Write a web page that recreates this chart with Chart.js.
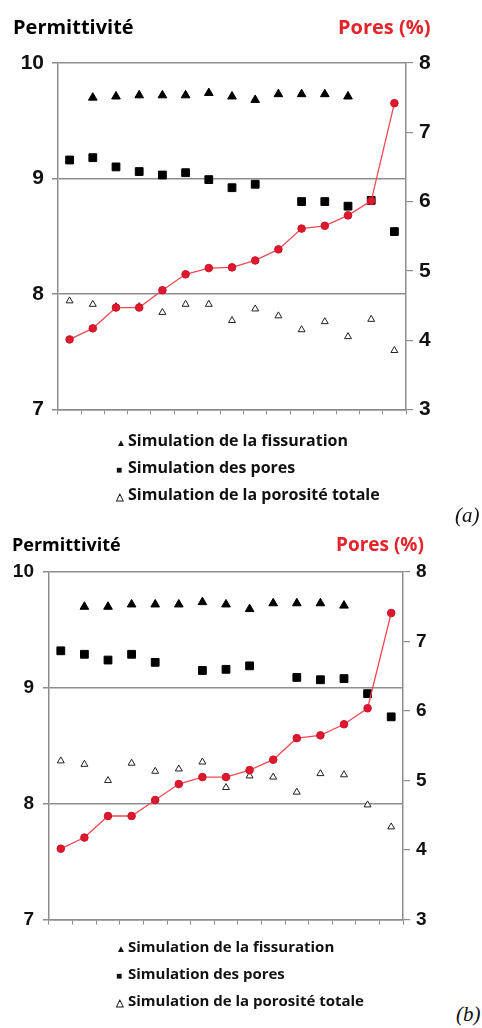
<!DOCTYPE html>
<html>
<head>
<meta charset="utf-8">
<script src="https://cdn.jsdelivr.net/npm/chart.js@4/dist/chart.umd.min.js"></script>
<style>
  body { margin: 0; background: #fff; width: 482px; height: 1028px; position: relative; overflow: hidden; }
  canvas { position: absolute; left: 0; }
  .head { position: absolute; font-family: "Open Sans", sans-serif; font-weight: 700; white-space: nowrap; line-height: 1; }
  .red { color: #e3242b; }
  .legend { position: absolute; left: 116px; font-family: "Open Sans", sans-serif; font-weight: 700; color: #111; }
  .legend div { white-space: nowrap; height: 27px; line-height: 27px; }
  .legend .sym { display: inline-block; width: 12px; font-size: 10px; line-height: 1; vertical-align: baseline; }
  .tag { position: absolute; font-family: "Liberation Serif", serif; font-style: italic; font-size: 21px; color: #111; }
</style>
</head>
<body>
<canvas id="chartA" width="482" height="430" style="top:0"></canvas>
<canvas id="chartB" width="482" height="430" style="top:510px"></canvas>

<div class="head" style="left:13px; top:17px; font-size:20px">Permittivité</div>
<div class="head red" style="left:338px; top:17px; font-size:20px">Pores (%)</div>
<div class="legend" id="legendA" style="top:427px; font-size:16px"></div>
<div class="tag" style="left:455px; top:503px">(a)</div>

<div class="head" style="left:12px; top:535px; font-size:18px">Permittivité</div>
<div class="head red" style="left:336px; top:535px; font-size:19px">Pores (%)</div>
<div class="legend" id="legendB" style="top:933px; font-size:15px"></div>
<div class="tag" style="left:456px; top:1002px">(b)</div>

<script>
const labels = ['1', '2', '3', '4', '5', '6', '7', '8', '9', '10', '11', '12', '13', '14', '15'];
const nameFiss = 'Simulation de la fissuration';
const namePores = 'Simulation des pores';
const nameTotal = 'Simulation de la porosité totale';

// (a) permittivity (left axis) and measured pores % (right axis)
const fissA = [null, 9.70, 9.71, 9.72, 9.72, 9.72, 9.74, 9.71, 9.68, 9.73, 9.73, 9.73, 9.71, null, null];
const poresSimA = [9.16, 9.18, 9.10, 9.06, 9.03, 9.05, 8.99, 8.92, 8.95, null, 8.80, 8.80, 8.76, 8.81, 8.54];
const totalA = [7.94, 7.91, 7.89, 7.89, 7.84, 7.91, 7.91, 7.77, 7.87, 7.81, 7.69, 7.76, 7.63, 7.78, 7.51];
const poresA = [4.01, 4.17, 4.47, 4.47, 4.72, 4.95, 5.04, 5.05, 5.15, 5.31, 5.61, 5.65, 5.80, 6.01, 7.42];

// (b)
const fissB = [null, 9.70, 9.70, 9.72, 9.72, 9.72, 9.74, 9.72, 9.68, 9.73, 9.73, 9.73, 9.71, null, null];
const poresSimB = [9.32, 9.29, 9.24, 9.29, 9.22, null, 9.15, 9.16, 9.19, null, 9.09, 9.07, 9.08, 8.95, 8.75];
const totalB = [8.37, 8.34, 8.20, 8.35, 8.28, 8.30, 8.36, 8.14, 8.24, 8.23, 8.10, 8.26, 8.25, 7.99, 7.80];
const poresB = [4.02, 4.18, 4.49, 4.49, 4.72, 4.95, 5.05, 5.05, 5.15, 5.30, 5.61, 5.65, 5.81, 6.04, 7.41];

const permTicks = [7, 8, 9, 10];
const poresTicks = [3, 4, 5, 6, 7, 8];

const gridGray = '#8d8d8d';

function buildChart(canvasId, fiss, poresSim, total, pores, geo) {
    const tickFont = { family: 'Liberation Sans', weight: 'bold', size: geo.tickSize };
    return new Chart(document.getElementById(canvasId), {
        type: 'line',
        data: {
            labels: labels,
            datasets: [
                {
                    label: 'Pores (%)',
                    data: pores,
                    yAxisID: 'y1',
                    order: 0,
                    borderColor: '#ef4a55',
                    borderWidth: 1.3,
                    pointStyle: 'circle',
                    pointRadius: 3.8,
                    pointBackgroundColor: '#e0182d',
                    pointBorderColor: '#c8142a',
                    pointBorderWidth: 1
                },
                {
                    label: nameFiss,
                    data: fiss,
                    yAxisID: 'y',
                    order: 1,
                    showLine: false,
                    pointStyle: 'triangle',
                    pointRadius: 5,
                    pointBackgroundColor: '#000',
                    pointBorderColor: '#000',
                    pointBorderWidth: 1
                },
                {
                    label: namePores,
                    data: poresSim,
                    yAxisID: 'y',
                    order: 2,
                    showLine: false,
                    pointStyle: 'rect',
                    pointRadius: 5.5,
                    pointBackgroundColor: '#000',
                    pointBorderColor: '#000',
                    pointBorderWidth: 1
                },
                {
                    label: nameTotal,
                    data: total,
                    yAxisID: 'y',
                    order: 3,
                    showLine: false,
                    pointStyle: 'triangle',
                    pointRadius: 4,
                    pointBackgroundColor: '#fff',
                    pointBorderColor: '#222',
                    pointBorderWidth: 1
                }
            ]
        },
        options: {
            responsive: false,
            animation: false,
            devicePixelRatio: 1,
            layout: { padding: { top: geo.top, left: 0, right: 0, bottom: 0 } },
            plugins: { legend: { display: false }, tooltip: { enabled: false } },
            scales: {
                x: {
                    type: 'category',
                    offset: true,
                    ticks: { display: false },
                    grid: { offset: true, drawOnChartArea: false, tickLength: 5, color: gridGray, lineWidth: 1 },
                    border: { color: gridGray, width: 1.5 },
                    afterFit: function (s) { s.height = geo.xHeight; }
                },
                y: {
                    position: 'left',
                    min: 7,
                    max: 10,
                    afterBuildTicks: function (s) { s.ticks = permTicks.map(v => ({ value: v })); },
                    ticks: { color: '#111', font: tickFont, padding: geo.tickPad },
                    grid: { color: gridGray, lineWidth: 1.5, tickLength: 6 },
                    border: { color: gridGray, width: 1.5 },
                    afterFit: function (s) { s.width = geo.leftWidth; }
                },
                y1: {
                    position: 'right',
                    min: 3,
                    max: 8,
                    afterBuildTicks: function (s) { s.ticks = poresTicks.map(v => ({ value: v })); },
                    ticks: { color: '#111', font: tickFont, padding: 6 },
                    grid: { drawOnChartArea: false, color: gridGray, lineWidth: 1.2, tickLength: 7 },
                    border: { color: gridGray, width: 1.5 },
                    afterFit: function (s) { s.width = geo.rightWidth; }
                }
            }
        }
    });
}

// legend lines built from the black series of each chart
function fillLegend(chart, boxId) {
    const symbols = { 'triangle#000': '\u25B2', 'rect#000': '\u25A0', 'triangle#fff': '\u25B3' };
    const box = document.getElementById(boxId);
    chart.data.datasets.filter(d => d.yAxisID === 'y').forEach(function (d) {
        const row = document.createElement('div');
        const sym = document.createElement('span');
        sym.className = 'sym';
        sym.textContent = symbols[d.pointStyle + d.pointBackgroundColor];
        row.appendChild(sym);
        row.appendChild(document.createTextNode(d.label));
        box.appendChild(row);
    });
}

const chartA = buildChart('chartA', fissA, poresSimA, totalA, poresA,
    { top: 63, xHeight: 17, leftWidth: 58, rightWidth: 76, tickSize: 21, tickPad: 8 });
const chartB = buildChart('chartB', fissB, poresSimB, totalB, poresB,
    { top: 62, xHeight: 16, leftWidth: 49, rightWidth: 79, tickSize: 19, tickPad: 9 });

fillLegend(chartA, 'legendA');
fillLegend(chartB, 'legendB');
</script>
</body>
</html>
